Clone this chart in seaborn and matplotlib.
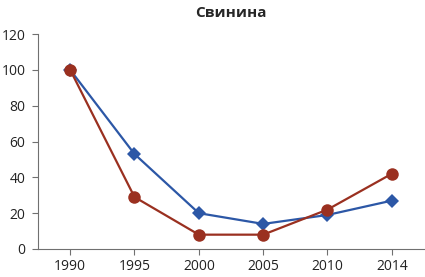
import seaborn as sns
import matplotlib.pyplot as plt
import pandas as pd

years = ["1990", "1995", "2000", "2005", "2010", "2014"]
blue_vals = [100, 53, 20, 14, 19, 27]
red_vals = [100, 29, 8, 8, 22, 42]

sns.set_style("white")
plt.rcParams['font.family'] = ['Open Sans', 'DejaVu Sans']

df_blue = pd.DataFrame({"year": years, "value": blue_vals})
df_red = pd.DataFrame({"year": years, "value": red_vals})

fig = plt.figure(figsize=(4.25, 2.77), dpi=100)
ax = fig.add_axes([38 / 425, 28 / 277, 386 / 425, (249 - 34) / 277])

sns.lineplot(data=df_blue, x="year", y="value", ax=ax, color="#2C57A6",
             marker="D", markersize=7, markeredgewidth=0, linewidth=1.6)
sns.lineplot(data=df_red, x="year", y="value", ax=ax, color="#9A3020",
             marker="o", markersize=9, markeredgewidth=0, linewidth=1.6)

ax.set_xlim(-0.5, 5.5)
ax.set_ylim(0, 120)
ax.set_yticks(range(0, 121, 20))
ax.set_xlabel("")
ax.set_ylabel("")
ax.set_title("Свинина", fontsize=11, fontweight="bold", pad=12)
sns.despine(ax=ax)
for s in ["left", "bottom"]:
    ax.spines[s].set_color("#707070")
    ax.spines[s].set_linewidth(0.8)
ax.tick_params(axis="both", which="both", length=4, width=0.8, color="#707070",
               labelsize=10, labelcolor="#222222", direction="out", left=True, bottom=True)
ax.tick_params(axis="x", pad=3)
ax.tick_params(axis="y", pad=5)

fig.savefig("out.png", dpi=100)
